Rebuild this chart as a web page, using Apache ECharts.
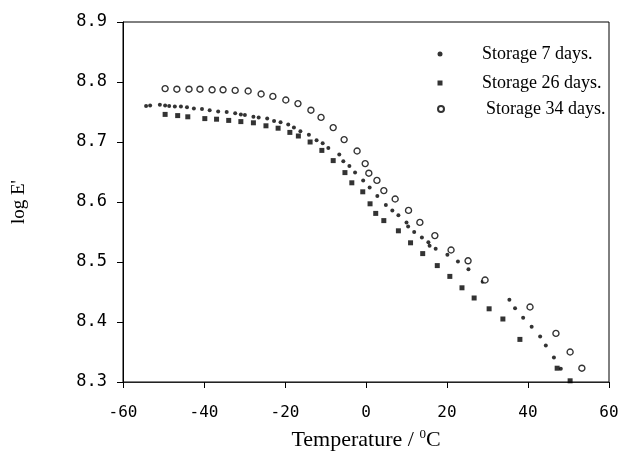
<!DOCTYPE html>
<html><head><meta charset="utf-8">
<script src="https://cdn.jsdelivr.net/npm/echarts@6/dist/echarts.min.js"></script>
<style>html,body{margin:0;padding:0;background:#fff}#c{width:626px;height:456px}</style>
</head><body><div id="c"></div>
<script>
const seriesNames = ['Storage 7 days.', 'Storage 26 days.', 'Storage 34 days.'];

const temp7 = [-54.3,-53.3,-50.9,-49.6,-48.6,-47.2,-45.7,-44.2,-42.5,-40.5,-38.6,-36.5,-34.4,-32.3,-30.9,-29.9,-27.8,-26.5,-24.4,-22.7,-21.1,-19.2,-17.8,-16.2,-14.1,-12.2,-10.7,-9.3,-6.6,-5.6,-4.1,-2.7,-0.7,0.9,2.8,4.9,6.5,8.0,10.0,10.4,11.9,13.8,15.4,15.7,17.2,20.1,22.7,25.3,28.8,35.4,36.8,38.8,40.9,43.0,44.4,46.4,48.1];
const logE7 = [8.760,8.761,8.762,8.761,8.760,8.759,8.759,8.758,8.756,8.755,8.753,8.751,8.750,8.748,8.746,8.745,8.742,8.741,8.739,8.735,8.733,8.729,8.724,8.718,8.712,8.703,8.698,8.690,8.679,8.668,8.660,8.649,8.636,8.624,8.610,8.595,8.586,8.578,8.566,8.559,8.550,8.541,8.533,8.527,8.522,8.512,8.501,8.488,8.467,8.437,8.423,8.407,8.392,8.376,8.361,8.341,8.322];

const temp26 = [-49.6,-46.5,-44.0,-39.8,-36.9,-33.9,-30.9,-27.8,-24.7,-21.7,-18.8,-16.7,-13.8,-10.9,-8.1,-5.2,-3.5,-0.8,1.0,2.4,4.4,8.0,11.0,14.0,17.6,20.7,23.7,26.7,30.4,33.8,38.0,47.2,50.4];
const logE26 = [8.746,8.744,8.742,8.739,8.738,8.736,8.734,8.732,8.727,8.723,8.716,8.710,8.700,8.686,8.669,8.649,8.632,8.617,8.597,8.581,8.569,8.552,8.532,8.514,8.494,8.476,8.457,8.440,8.422,8.405,8.371,8.323,8.302];

const temp34 = [-49.6,-46.7,-43.7,-41.0,-38.0,-35.3,-32.3,-29.1,-25.9,-23.0,-19.8,-16.8,-13.6,-11.1,-8.1,-5.4,-2.2,-0.2,0.7,2.7,4.4,7.2,10.5,13.3,17.0,21.0,25.2,29.4,40.5,46.9,50.4,53.3];
const logE34 = [8.789,8.788,8.788,8.788,8.787,8.787,8.786,8.785,8.780,8.776,8.770,8.764,8.753,8.741,8.724,8.704,8.685,8.664,8.648,8.636,8.619,8.605,8.586,8.566,8.544,8.520,8.502,8.470,8.425,8.381,8.350,8.323];

const xTicks = [-60, -40, -20, 0, 20, 40, 60];
const yTicks = [8.3, 8.4, 8.5, 8.6, 8.7, 8.8, 8.9];

function pairs(xs, ys) { return xs.map((x, i) => [x, ys[i]]); }

const chart = echarts.init(document.getElementById('c'), null, {renderer: 'canvas'});
const serif = 'Liberation Serif';
const mono = 'DejaVu Sans Mono';
const circlePath = 'path://M1,0.5A0.5,0.5,0,1,1,0,0.5A0.5,0.5,0,1,1,1,0.5Z';
const squarePath = 'path://M0,0L1,0L1,1L0,1Z';

const legendCommon = {
  orient: 'vertical', padding: 0, selectedMode: false, symbolKeepAspect: true,
  itemWidth: 74,
  textStyle: {fontFamily: serif, fontSize: 18, color: '#000'}
};

chart.setOption({
  backgroundColor: '#fff',
  animation: false,
  grid: {left: 123, right: 17, top: 22, bottom: 72, show: true, borderColor: '#000', borderWidth: 1},
  legend: [
    Object.assign({}, legendCommon, {data: [{name: seriesNames[0], icon: circlePath}], left: 437.5, top: 45, itemHeight: 5}),
    Object.assign({}, legendCommon, {data: [{name: seriesNames[1], icon: squarePath}], left: 437.5, top: 74, itemHeight: 5}),
    Object.assign({}, legendCommon, {data: [{name: seriesNames[2], icon: circlePath}], left: 437, top: 100, itemHeight: 6, itemWidth: 80})
  ],
  xAxis: {
    type: 'value', min: xTicks[0], max: xTicks[xTicks.length - 1], interval: 20,
    name: '{a|Temperature / }{s|0}{a|C}', nameLocation: 'middle', nameGap: 46,
    nameTextStyle: {
      rich: {
        a: {fontFamily: serif, fontSize: 22, color: '#000', lineHeight: 24},
        s: {fontFamily: serif, fontSize: 13, color: '#000', lineHeight: 12, verticalAlign: 'top'}
      }
    },
    axisLine: {show: true, onZero: false, lineStyle: {color: '#222', width: 1}},
    axisTick: {show: true, inside: false, length: 6, lineStyle: {color: '#000'}},
    axisLabel: {fontFamily: mono, fontSize: 16, color: '#000', margin: 23},
    splitLine: {show: false}
  },
  yAxis: {
    type: 'value', min: yTicks[0], max: yTicks[yTicks.length - 1], interval: 0.1,
    name: "log E'", nameLocation: 'middle', nameGap: 94, nameRotate: 90,
    nameTextStyle: {fontFamily: serif, fontSize: 19, color: '#000'},
    axisLine: {show: true, onZero: false, lineStyle: {color: '#000', width: 1}},
    axisTick: {show: true, inside: false, length: 6, lineStyle: {color: '#000'}},
    axisLabel: {fontFamily: mono, fontSize: 17, color: '#000', margin: 16, formatter: v => v.toFixed(1)},
    splitLine: {show: false}
  },
  series: [
    {name: seriesNames[0], type: 'scatter', data: pairs(temp7, logE7), symbol: 'circle', symbolSize: 4,
     itemStyle: {color: '#000'}},
    {name: seriesNames[1], type: 'scatter', data: pairs(temp26, logE26), symbol: 'rect', symbolSize: 5,
     itemStyle: {color: '#000'}},
    {name: seriesNames[2], type: 'scatter', data: pairs(temp34, logE34), symbol: 'circle', symbolSize: 6,
     itemStyle: {color: '#fff', borderColor: '#000', borderWidth: 1.4}}
  ]
});
</script>
</body></html>
